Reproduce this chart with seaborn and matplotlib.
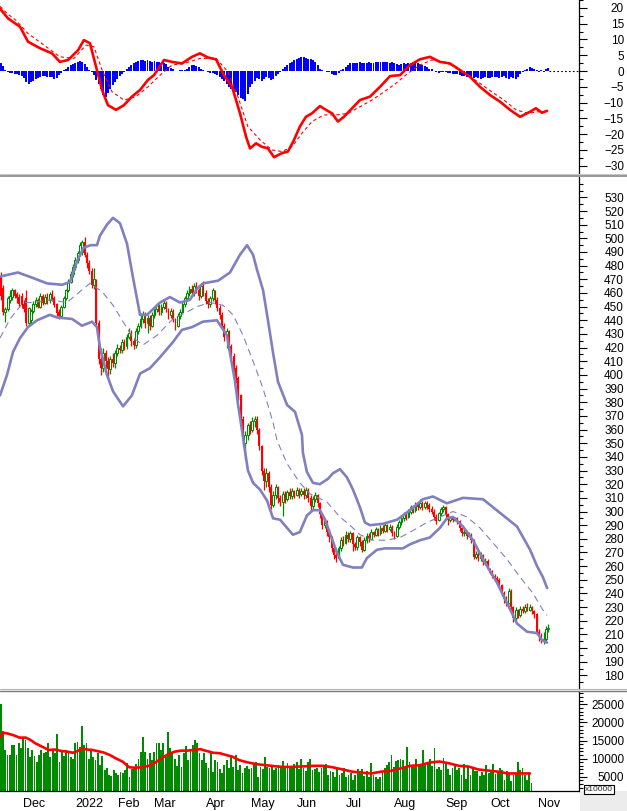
import numpy as np
import pandas as pd
import matplotlib
matplotlib.use("Agg")
import matplotlib.pyplot as plt
import matplotlib.ticker as mticker
from matplotlib.lines import Line2D
from matplotlib.patches import Rectangle
import seaborn as sns

# ---- trading calendar (exchange closed on these days) ----
first_day = "2021-11-18"
holidays = ["2022-01-03", "2022-01-31", "2022-02-01", "2022-02-02", "2022-02-03",
            "2022-02-04", "2022-04-11", "2022-05-02", "2022-05-03", "2022-09-01",
            "2022-09-02"]
month_labels = ["Dec", "2022", "Feb", "Mar", "Apr", "May", "Jun", "Jul", "Aug",
                "Sep", "Oct", "Nov"]

# ---- daily candles, one line per month (Nov-21 .. Oct-22) ----
open_ = [
    472, 464, 446, 448, 455, 457, 462, 459, 457,
    458, 452, 456, 438, 440, 447, 452, 455, 450, 458, 453, 457, 455, 459, 456, 452, 446, 443, 450, 456, 462, 468, 474,
    479, 484, 489, 490, 497, 488, 482, 476, 466, 468, 438, 412, 405, 416, 410, 404, 412, 409, 416,
    420, 418, 424, 421, 428, 431, 425, 422, 432, 436, 441, 444, 438, 442, 436, 444,
    448, 451, 446, 450, 453, 448, 444, 447, 441, 436, 443, 446, 452, 456, 460, 463, 460, 465, 462, 458, 465, 460, 454,
    452, 456, 461, 455, 449, 444, 436, 428, 432, 421, 414, 405, 398, 385, 368, 350, 356, 363, 360, 366,
    368, 360, 348, 330, 322, 328, 318, 305, 312, 318, 310, 307, 313, 309, 314, 311, 315, 312, 316, 313,
    315, 312, 316, 310, 304, 309, 312, 306, 298, 290, 293, 285, 281, 273, 268, 266, 273, 279, 277, 283, 280, 284,
    276, 274, 281, 278, 272, 279, 282, 280, 285, 283, 287, 284, 288, 286, 290, 287, 289, 284, 282, 289, 292,
    295, 298, 296, 300, 303, 301, 305, 303, 306, 303, 306, 305, 302, 300, 296, 294, 299, 302, 303, 298, 294, 296, 294,
    295, 293, 288, 284, 285, 282, 283, 279, 267, 269, 266, 268, 263, 264, 258, 255, 253, 251, 250, 246,
    240, 236, 233, 242, 230, 222, 228, 224, 229, 227, 230, 228, 230, 227, 225, 212, 209, 206, 207, 214,
]
high = [
    475, 466, 450, 458, 462, 464, 463, 461, 459,
    460, 455, 462, 450, 448, 454, 457, 456, 460, 459, 459, 460, 461, 462, 458, 453, 448, 451, 458, 463, 470, 476, 481,
    486, 491, 497, 499, 501, 490, 484, 478, 478, 470, 440, 420, 420, 418, 413, 414, 416, 418, 423,
    422, 426, 426, 430, 434, 433, 427, 434, 438, 445, 447, 446, 444, 444, 446, 450,
    453, 452, 452, 455, 454, 449, 449, 448, 442, 445, 448, 454, 458, 462, 465, 466, 467, 468, 464, 467, 469, 462, 456,
    458, 464, 462, 457, 451, 446, 438, 434, 433, 423, 416, 407, 399, 386, 370, 359, 365, 366, 369, 370,
    370, 361, 349, 332, 332, 330, 320, 315, 320, 319, 312, 315, 315, 316, 317, 317, 316, 318, 317, 317,
    317, 318, 317, 312, 311, 314, 313, 307, 299, 295, 294, 287, 282, 275, 270, 275, 281, 282, 286, 285, 286, 285,
    278, 283, 282, 279, 281, 284, 284, 287, 286, 289, 288, 290, 290, 292, 291, 291, 290, 286, 291, 294, 297,
    300, 300, 302, 305, 305, 307, 307, 309, 308, 308, 308, 306, 304, 302, 298, 300, 303, 305, 304, 299, 297, 297, 296,
    296, 294, 289, 287, 286, 285, 284, 280, 271, 270, 270, 269, 266, 265, 259, 257, 254, 253, 251, 247,
    242, 238, 244, 243, 231, 230, 229, 231, 231, 232, 233, 232, 231, 228, 226, 214, 211, 212, 216, 218,
]
low = [
    455, 444, 439, 447, 453, 455, 456, 453, 450,
    449, 446, 436, 436, 437, 445, 450, 449, 449, 451, 452, 452, 453, 454, 450, 443, 441, 442, 449, 455, 461, 467, 472,
    477, 482, 487, 488, 486, 478, 474, 464, 463, 436, 408, 400, 402, 405, 398, 401, 406, 405, 414,
    416, 416, 418, 419, 426, 421, 419, 420, 430, 434, 438, 434, 431, 433, 435, 442,
    446, 444, 444, 448, 446, 441, 442, 439, 433, 435, 441, 445, 450, 454, 458, 457, 458, 460, 455, 456, 458, 452, 449,
    450, 454, 452, 447, 441, 433, 425, 420, 418, 410, 402, 394, 382, 362, 348, 338, 352, 357, 358, 362,
    357, 345, 327, 316, 318, 314, 302, 303, 309, 306, 304, 297, 306, 308, 309, 309, 310, 311, 310, 311,
    309, 310, 307, 300, 302, 307, 303, 295, 287, 288, 282, 278, 270, 265, 263, 265, 271, 275, 276, 278, 278, 271,
    272, 272, 275, 270, 271, 277, 278, 279, 281, 282, 282, 283, 284, 285, 285, 286, 282, 280, 281, 287, 290,
    293, 294, 295, 298, 299, 300, 301, 302, 301, 302, 302, 300, 298, 294, 291, 293, 297, 300, 296, 290, 292, 292, 293,
    291, 286, 282, 282, 280, 281, 277, 265, 265, 264, 264, 261, 261, 257, 254, 251, 250, 248, 245, 238,
    233, 231, 232, 228, 219, 220, 222, 223, 226, 226, 227, 227, 225, 222, 210, 205, 204, 203, 205, 212,
]
close = [
    458, 446, 448, 456, 458, 462, 458, 456, 452,
    451, 448, 438, 449, 447, 452, 455, 450, 458, 453, 457, 454, 459, 455, 451, 445, 443, 450, 456, 462, 468, 474, 479,
    484, 489, 495, 497, 488, 482, 476, 466, 470, 438, 412, 405, 416, 410, 404, 412, 409, 416, 420,
    418, 424, 421, 428, 431, 425, 422, 432, 436, 441, 444, 438, 442, 436, 444, 448,
    451, 446, 450, 453, 448, 444, 447, 441, 436, 443, 446, 452, 456, 460, 463, 460, 465, 462, 458, 465, 460, 454, 452,
    456, 462, 455, 449, 444, 436, 428, 432, 421, 414, 405, 398, 385, 368, 352, 356, 363, 360, 366, 368,
    360, 348, 330, 322, 328, 318, 305, 312, 318, 310, 307, 313, 309, 314, 311, 315, 312, 316, 313, 315,
    312, 316, 310, 304, 309, 312, 306, 298, 290, 293, 285, 281, 273, 268, 266, 273, 279, 277, 283, 280, 284, 276,
    274, 281, 278, 272, 279, 282, 280, 285, 283, 287, 284, 288, 286, 290, 287, 289, 284, 282, 289, 292, 295,
    298, 296, 300, 303, 301, 305, 303, 306, 303, 306, 304, 302, 300, 296, 293, 299, 302, 303, 298, 294, 296, 294, 295,
    293, 288, 284, 285, 282, 283, 279, 267, 269, 266, 268, 263, 264, 258, 255, 253, 251, 250, 246, 240,
    236, 233, 242, 230, 222, 228, 224, 229, 227, 230, 228, 230, 227, 225, 212, 209, 206, 207, 214, 215,
]
volume = [
    25000, 17500, 12400, 11000, 11000, 13800, 13800, 11000, 14400,
    12800, 16100, 15100, 12800, 10500, 12400, 10700, 9100, 11000, 12400, 11500, 11900, 14200, 10500, 12400, 11500, 16700, 9100, 11900, 10700, 12400, 11500, 10500,
    10000, 14200, 14700, 13300, 19000, 13800, 14200, 9800, 12600, 10500, 9600, 11500, 8200, 10700, 6800, 7300, 5500, 5200, 6800,
    5900, 5500, 6400, 5900, 6800, 8900, 5000, 7000, 7800, 8500, 10000, 11900, 16100, 11900, 10000, 11600,
    9600, 11900, 14200, 14200, 12400, 14200, 10500, 17400, 12800, 11500, 10000, 7900, 11000, 7800, 11500, 13400, 9600, 12400, 13800, 15100, 14200, 11500, 9600,
    11600, 8700, 7300, 11600, 6400, 9600, 9100, 7000, 5900, 8200, 9600, 7300, 10500, 7800, 11000, 6800, 8200, 5900, 7300, 7900,
    7000, 7300, 8700, 9100, 4800, 7800, 7000, 10500, 7800, 7300, 8200, 6800, 7300, 8200, 7800, 9400, 7300, 8700, 7300, 8000,
    8500, 9100, 7000, 10000, 7500, 6500, 9100, 9800, 6800, 7200, 7500, 6200, 7500, 8200, 8500, 5500, 6500, 6200, 5000, 7000, 5500, 6000,
    7500, 5000, 5500, 6000, 4100, 5500, 7100, 6500, 7000, 5200, 6600, 5000, 8900, 5500, 4800, 4500, 4800, 6500, 7500, 8200, 9000,
    11000, 7800, 9400, 9600, 9800, 9500, 7500, 13100, 9000, 8000, 7600, 10000, 8600, 8000, 12400, 8500, 9000, 10000, 8000, 12800, 7000, 7600, 6800,
    10100, 8500, 7000, 5500, 7500, 8000, 6800, 7300, 5500, 8500, 4500, 7600, 5500, 7000, 6500, 6600, 5200, 6200, 5500, 8200,
    6000, 6500, 8500, 5800, 6500, 7300, 6800, 4200, 6500, 5800, 3800, 5500, 5800, 9000, 6800, 7500, 5500, 4200, 6000, 3300,
]
macd_hist = [
    2.4, 1.5, 0.3, -0.3, -0.5, -0.7, -0.8, -1.0, -1.2,
    -1.5, -2.3, -3.6, -4.1, -3.6, -3.0, -2.6, -2.2, -1.8, -1.6, -1.7, -1.8, -1.9, -2.0, -2.4, -2.1, -1.2, -0.6, 0.2, 0.6, 1.2, 1.8, 2.2,
    2.6, 2.8, 3.2, 3.0, 2.2, 1.2, 0.2, -0.4, -1.2, -2.8, -4.2, -5.8, -7.6, -8.2, -7.0, -5.6, -4.4, -3.4, -2.4,
    -1.5, -0.8, -0.2, 0.6, 1.4, 2.0, 2.6, 3.0, 3.3, 3.5, 3.4, 3.3, 3.5, 3.2, 3.0, 3.1,
    2.9, 2.8, 2.6, 2.5, 2.1, 1.4, 0.9, 0.5, 0.1, 0.1, 0.2, 0.3, 0.3, 0.8, 1.4, 1.8, 2.0, 1.6, 1.2, 0.8, 0.4, 0.1, -0.3,
    -0.5, -0.6, -0.9, -1.4, -2.0, -2.6, -3.2, -4.2, -5.0, -5.6, -6.2, -6.8, -7.6, -8.4, -9.0, -9.4, -7.2, -5.2, -4.0, -3.0,
    -2.2, -2.6, -3.0, -2.6, -2.0, -2.2, -2.8, -2.4, -1.5, -0.8, -0.2, 0.5, 1.2, 2.0, 2.6, 3.0, 3.4, 3.8, 4.1, 4.4,
    4.3, 4.0, 3.8, 3.9, 3.5, 2.8, 1.8, 0.8, 0.2, -0.1, -0.2, -0.4, -0.9, -1.4, -1.2, -0.5, 0.2, 0.8, 1.4, 2.0, 2.4, 2.6,
    2.7, 2.6, 2.8, 2.7, 2.6, 2.7, 2.8, 2.7, 2.6, 2.8, 3.0, 3.0, 2.9, 3.0, 2.8, 2.6, 2.8, 2.4, 2.1, 2.0, 2.2,
    2.4, 2.3, 2.5, 2.4, 2.6, 2.4, 2.5, 2.2, 1.9, 1.6, 1.2, 0.8, 0.5, 0.1, -0.3, -0.5, -0.3, -0.2, -0.3, -0.5, -0.7, -0.8, -1.0,
    -0.9, -1.2, -1.5, -1.7, -1.8, -2.0, -1.8, -2.2, -2.0, -2.1, -2.4, -2.2, -2.0, -2.3, -2.1, -1.9, -2.0, -1.8, -2.2, -2.0,
    -1.7, -2.1, -2.4, -2.0, -2.2, -2.4, -1.8, -1.0, -0.4, 0.3, 0.8, 1.3, 1.0, 0.6, 0.4, -0.2, 0.3, -0.4, 0.5, 1.0,
]

# ---- indicator lines: (bar number, value) ----
bb_upper = [(-0.3, 472), (7.4, 475), (13.8, 471), (19.9, 467), (26.3, 466), (29.7, 468), (32.7, 483),
            (35.5, 493), (38.6, 495), (41.3, 495), (42.6, 502), (45.6, 510), (48.2, 515), (51.2, 511),
            (54.2, 496), (56.8, 471), (59.8, 444), (62.8, 444), (68.4, 453), (72.6, 457), (76.9, 453),
            (81.2, 455), (84.2, 463), (86.8, 467), (93.3, 469), (98.4, 475), (102.7, 488), (105.7, 495),
            (108.3, 488), (110.0, 477), (112.6, 462), (114.7, 440), (116.9, 416), (119.0, 395),
            (122.9, 378), (126.3, 373), (129.3, 356), (129.7, 343), (131.4, 329), (134.0, 321),
            (137.0, 320), (140.5, 324), (142.6, 328), (145.6, 331), (148.6, 325), (151.2, 316),
            (154.2, 303), (156.3, 292), (158.5, 290), (164.0, 291), (170.1, 294), (175.7, 301),
            (181.2, 309), (185.5, 311), (191.5, 306), (198.4, 310), (207.0, 309), (214.3, 299),
            (221.6, 289), (227.2, 272), (230.2, 260), (232.7, 252), (234.5, 244)]
bb_middle = [(-0.3, 427), (4.0, 441), (9.6, 453), (13.8, 453), (21.1, 455), (28.4, 453), (34.0, 461),
             (38.3, 467), (43.5, 461), (48.2, 451), (52.5, 439), (56.8, 427), (61.1, 422), (67.1, 429),
             (73.9, 441), (79.9, 446), (84.2, 450), (89.8, 453), (95.4, 451), (99.7, 444), (104.0, 429),
             (108.3, 410), (112.6, 390), (116.9, 365), (118.6, 352), (122.9, 335), (128.4, 321),
             (132.7, 313), (140.0, 307), (145.6, 296), (149.9, 290), (154.2, 283), (159.8, 279),
             (165.8, 279), (171.4, 281), (176.9, 286), (182.9, 292), (188.5, 296), (194.1, 300),
             (200.1, 296), (205.7, 288), (211.3, 277), (217.3, 265), (222.9, 252), (228.5, 240),
             (232.3, 229), (234.5, 224)]
bb_lower = [(-0.3, 385), (2.7, 400), (5.3, 417), (8.3, 427), (11.7, 435), (15.6, 440), (21.1, 444),
            (24.2, 442), (30.6, 441), (34.9, 436), (39.2, 439), (41.3, 435), (42.6, 420), (45.6, 400),
            (48.2, 388), (52.5, 377), (56.3, 385), (59.8, 401), (64.1, 405), (68.4, 413), (73.9, 424),
            (77.8, 433), (82.1, 435), (86.8, 439), (92.8, 440), (97.1, 429), (98.4, 416), (100.5, 396),
            (101.8, 379), (103.5, 360), (104.8, 345), (106.1, 330), (108.3, 321), (111.3, 316),
            (114.3, 308), (116.9, 295), (119.9, 294), (125.4, 283), (128.4, 285), (131.4, 297),
            (134.0, 301), (137.0, 301), (139.2, 294), (141.3, 284), (144.3, 270), (146.9, 261),
            (151.2, 259), (155.0, 259), (157.2, 266), (161.5, 272), (164.9, 273), (172.6, 273),
            (175.7, 276), (180.0, 279), (184.2, 281), (188.5, 288), (191.5, 295), (194.1, 296),
            (198.4, 289), (202.7, 279), (207.0, 265), (213.0, 248), (217.3, 233), (221.6, 218),
            (225.9, 212), (230.2, 211), (232.3, 206), (234.5, 204)]
macd_line = [(-0.3, 19.8), (3.1, 16.7), (8.3, 14.0), (11.7, 9.3), (16.9, 7.2), (22.0, 5.6), (25.4, 2.9),
             (28.9, 3.5), (33.2, 6.6), (35.7, 9.8), (38.3, 8.8), (40.9, 1.4), (43.5, -6.0), (46.0, -10.8),
             (49.5, -12.3), (52.9, -10.8), (56.3, -8.1), (59.8, -6.0), (63.2, -2.8), (65.8, -1.3),
             (70.1, 3.5), (73.5, 2.9), (77.8, 2.4), (82.1, 4.5), (85.5, 5.6), (88.9, 4.3), (92.4, 3.7),
             (95.8, -1.3), (99.3, -5.0), (102.7, -13.4), (105.3, -20.8), (107.0, -24.5), (109.6, -22.9),
             (112.1, -24.0), (114.7, -24.5), (117.3, -27.3), (120.7, -26.0), (123.3, -25.5),
             (125.9, -21.8), (128.4, -17.6), (131.0, -14.5), (133.6, -13.4), (137.0, -11.1),
             (139.6, -12.3), (142.2, -13.4), (144.7, -16.0), (147.3, -14.5), (150.8, -11.8),
             (154.2, -9.2), (158.5, -8.1), (162.8, -5.0), (167.1, -1.6), (171.4, -1.3), (175.7, 1.9),
             (179.9, 3.7), (184.2, 4.5), (188.5, 2.9), (192.8, 2.4), (197.1, 0.3), (201.4, -1.8),
             (205.7, -5.0), (210.0, -7.6), (214.3, -9.7), (218.6, -12.3), (222.9, -14.5),
             (227.2, -12.9), (229.7, -11.8), (232.3, -13.2), (234.5, -12.6)]
macd_signal = [(-0.3, 20.5), (3.1, 18.0), (6.5, 16.1), (11.7, 11.9), (18.6, 8.2), (25.4, 4.5), (31.4, 4.0),
               (36.6, 8.2), (40.0, 7.7), (43.5, 0.3), (47.8, -6.6), (52.9, -9.2), (58.1, -8.1),
               (63.2, -5.0), (68.4, -1.3), (73.5, 1.9), (78.7, 2.4), (85.5, 4.0), (92.4, 4.0),
               (97.5, -0.2), (101.8, -8.1), (106.1, -17.6), (111.3, -21.8), (116.4, -25.0),
               (120.7, -25.5), (125.0, -24.0), (129.3, -19.7), (133.6, -16.0), (138.7, -13.9),
               (143.9, -13.9), (149.1, -13.4), (154.2, -11.3), (159.3, -9.2), (164.5, -6.6),
               (169.6, -3.9), (174.8, -0.7), (179.9, 1.9), (185.1, 3.5), (190.2, 2.9), (195.4, 1.4),
               (200.5, -1.3), (205.7, -3.9), (210.8, -6.6), (216.0, -9.2), (221.2, -12.3),
               (226.3, -13.4), (230.6, -12.9), (234.0, -12.9)]
vol_ma = [(-0.3, 16000), (1.1, 17100), (2.6, 17000), (5.5, 16500), (8.3, 15800), (11.1, 15800),
          (13.3, 15100), (15.4, 14200), (18.3, 13300), (21.2, 12400), (24.0, 12500), (26.9, 12100),
          (29.7, 11900), (31.9, 11600), (34.0, 12100), (36.2, 12800), (38.3, 12500), (40.5, 12400),
          (42.6, 12100), (45.5, 11700), (48.3, 11000), (51.2, 10000), (54.1, 9100), (56.9, 7600),
          (59.8, 7500), (62.6, 7600), (65.5, 8000), (68.4, 8900), (71.2, 10100), (74.1, 11200),
          (76.9, 11900), (79.8, 12200), (82.6, 12200), (85.5, 12400), (88.4, 12600), (91.2, 12100),
          (94.1, 11600), (96.9, 11500), (99.8, 11000), (102.7, 10500), (105.5, 9600), (108.4, 9100),
          (111.3, 8700), (114.1, 8400), (117.0, 8200), (119.9, 8000), (122.7, 7800), (125.6, 7700),
          (128.4, 7700), (132.7, 7800), (138.4, 8000), (142.7, 8000), (147.0, 7600), (151.3, 7000),
          (155.6, 6400), (159.9, 6100), (164.2, 5900), (168.4, 6400), (172.7, 6600), (177.0, 7300),
          (181.3, 8000), (185.6, 8200), (189.9, 8900), (194.2, 9200), (198.5, 8700), (202.8, 8000),
          (207.1, 7800), (211.4, 7000), (215.7, 6700), (220.0, 6400), (224.3, 5900), (230.0, 5900),
          (234.3, 5900)]

price_ticks = list(range(180, 531, 10))
macd_ticks = list(range(-30, 21, 5))
vol_ticks = [5000, 10000, 15000, 20000, 25000]

# ---------------------------------------------------------------
o, h, l, c = (np.array(a, dtype=float) for a in (open_, high, low, close))
vol = np.array(volume, dtype=float)
hist = np.array(macd_hist, dtype=float)
n = len(c)
bars = np.arange(n)

days = pd.bdate_range(first_day, "2022-11-30")
days = days[~days.isin(pd.to_datetime(holidays))]
mkey = np.asarray(days.year * 12 + days.month)
month_pos = np.flatnonzero(np.r_[True, mkey[1:] != mkey[:-1]])[1:]
wstart = np.asarray(days - pd.to_timedelta(days.dayofweek, unit="D"))
week_pos = np.flatnonzero(np.r_[True, wstart[1:] != wstart[:-1]])

sns.set_style("white")
plt.rcParams["font.family"] = ["Liberation Sans", "DejaVu Sans"]

W, H = 627, 811
AXR = 579  # right edge of the plotting area (px)
fig = plt.figure(figsize=(W / 100, H / 100), dpi=100)
fig.patch.set_facecolor("white")


def panel(top, bottom):
    return fig.add_axes([0, 1 - bottom / H, AXR / W, (bottom - top) / H])


ax_m = panel(0, 173)
ax_p = panel(177, 688)
ax_v = panel(692, 791)

GREEN = "#008a00"
RED = "#ff0000"
BAND = "#8080c0"

# candles
up = c >= o
ax_p.vlines(bars, l, h, colors=np.where(up, GREEN, RED), linewidth=0.9, zorder=3)
ax_p.bar(bars[~up], (o - c)[~up], bottom=c[~up], width=0.8, color=RED, linewidth=0, zorder=4)
ax_p.bar(bars[up], (c - o)[up], bottom=o[up], width=0.8, facecolor="white",
         edgecolor=GREEN, linewidth=0.75, zorder=4)

# bollinger bands
for pts, lw, ls in ((bb_upper, 1.9, "-"), (bb_lower, 1.9, "-"), (bb_middle, 0.8, (0, (6, 4)))):
    xs, ys = zip(*pts)
    sns.lineplot(x=list(xs), y=list(ys), ax=ax_p, color=BAND, linewidth=lw,
                 linestyle=ls, sort=False, estimator=None, zorder=5)

# MACD
sns.barplot(x=bars, y=hist, ax=ax_m, native_scale=True, orient="x", color="#0000ff",
            saturation=1, width=0.85, errorbar=None, linewidth=0)
xs, ys = zip(*macd_signal)
sns.lineplot(x=list(xs), y=list(ys), ax=ax_m, color=RED, linewidth=0.8,
             linestyle=(0, (3, 2.5)), sort=False, estimator=None, zorder=4)
xs, ys = zip(*macd_line)
sns.lineplot(x=list(xs), y=list(ys), ax=ax_m, color=RED, linewidth=1.9,
             sort=False, estimator=None, zorder=5)

# volume
sns.barplot(x=bars, y=vol, ax=ax_v, native_scale=True, orient="x", color=GREEN,
            saturation=1, width=0.8, errorbar=None, linewidth=0)
xs, ys = zip(*vol_ma)
sns.lineplot(x=list(xs), y=list(ys), ax=ax_v, color=RED, linewidth=1.9,
             sort=False, estimator=None, zorder=5)

XMIN, XMAX = -0.31, 248.2
for ax in (ax_m, ax_p, ax_v):
    ax.set_xlim(XMIN, XMAX)
    ax.set_facecolor("white")
    ax.set_xlabel("")
    ax.set_ylabel("")
    for s in ("top", "left", "bottom"):
        ax.spines[s].set_visible(False)
    ax.spines["right"].set_color("black")
    ax.spines["right"].set_linewidth(0.9)
    ax.yaxis.tick_right()

ax_m.set_ylim(-32.3, 22.5)
ax_m.set_yticks(macd_ticks)
ax_m.yaxis.set_minor_locator(mticker.MultipleLocator(2.5))
ax_p.set_ylim(170.8, 544.9)
ax_p.set_yticks(price_ticks)
ax_p.yaxis.set_minor_locator(mticker.MultipleLocator(5))
ax_v.set_ylim(1050, 28400)
ax_v.set_yticks(vol_ticks)
ax_v.yaxis.set_minor_locator(mticker.MultipleLocator(1000))

for ax in (ax_m, ax_p, ax_v):
    ax.tick_params(axis="y", which="major", direction="out", length=5.8, width=0.8,
                   color="black", labelsize=8.5, labelcolor="black", pad=26.6)
    ax.tick_params(axis="y", which="minor", direction="out", length=2.9, width=0.8, color="black")
    for t in ax.get_yticklabels():
        t.set_horizontalalignment("right")

ax_m.tick_params(axis="x", which="both", bottom=False, labelbottom=False)
ax_p.tick_params(axis="x", which="both", bottom=False, labelbottom=False)

# zero line of the oscillator beyond the last bar
ax_m.plot([n - 0.5, XMAX], [0, 0], color="black", linewidth=0.8, linestyle=(0, (1.5, 2)), zorder=6)

# date axis under the volume panel
ax_v.spines["bottom"].set_visible(True)
ax_v.spines["bottom"].set_color("black")
ax_v.spines["bottom"].set_linewidth(0.9)
ax_v.set_xticks(month_pos)
ax_v.set_xticks(week_pos, minor=True)
ax_v.tick_params(axis="x", which="major", direction="out", length=14.4, width=0.9,
                 color="black", labelbottom=False)
ax_v.tick_params(axis="x", which="minor", direction="out", length=3.6, width=0.8, color="black")
for pos, lab in zip(month_pos, month_labels):
    ax_v.annotate(lab, xy=(pos, 0), xycoords=ax_v.get_xaxis_transform(),
                  xytext=(1.6, -9.2), textcoords="offset points", ha="left", va="center",
                  fontsize=9, color="black", annotation_clip=False)

# panel separators and decorations
for y, col, lw in ((173.5, "#c8c8c8", 0.8), (175.5, "#7a7a7a", 1.1),
                   (688.5, "#b4b4b4", 0.8), (691.0, "#7a7a7a", 1.0)):
    fig.add_artist(Line2D([0, 1], [1 - y / H, 1 - y / H], transform=fig.transFigure,
                          color=col, linewidth=lw))
fig.add_artist(Rectangle((AXR / W + 0.001, 0), 1 - AXR / W, 20 / H, transform=fig.transFigure,
                         facecolor="#ececec", edgecolor="none"))
fig.text(599 / W, 1 - 789.5 / H, "x10000", fontsize=6, ha="center", va="center", zorder=10,
         bbox=dict(boxstyle="square,pad=0.15", facecolor="white", edgecolor="black", linewidth=0.8))

fig.savefig("out.png", dpi=100)
